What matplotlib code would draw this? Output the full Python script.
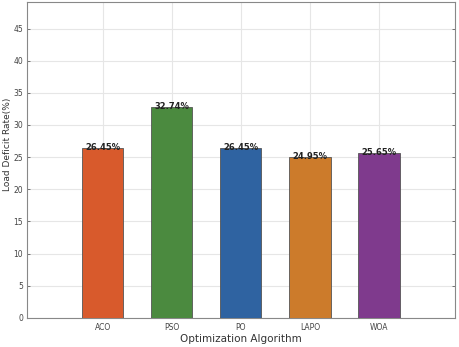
import matplotlib
matplotlib.use("Agg")
import matplotlib.pyplot as plt
import numpy as np

# load deficit rate per optimization algorithm
algorithms = ["ACO", "PSO", "PO", "LAPO", "WOA"]
deficit_rate = [26.45, 32.74, 26.45, 24.95, 25.65]
bar_colors = ["#D85A2C", "#4B8A3F", "#2F63A1", "#CC7B2B", "#7F3A8D"]

fig = plt.figure(figsize=(4.59, 3.47), dpi=100)
ax = fig.add_axes([0.058, 0.084, 0.933, 0.91])

x = np.arange(1, len(algorithms) + 1)
bars = ax.bar(x, deficit_rate, width=0.6, color=bar_colors,
              edgecolor="#555555", linewidth=0.6, zorder=3)

for xi, v in zip(x, deficit_rate):
    ax.text(xi, v - 0.6, f"{v:.2f}%", ha="center", va="bottom",
            fontsize=6, fontweight="bold", color="#222222", zorder=4)

ax.set_xlim(-0.1, 6.1)
ax.set_ylim(0, max(deficit_rate) * 1.5)
ax.set_xticks(x)
ax.set_xticklabels(algorithms)
ax.set_yticks(np.arange(0, 50, 5))

ax.grid(True, color="#e6e6e6", linewidth=0.8, zorder=0)
ax.tick_params(labelsize=5.5, colors="#444444", length=2, width=0.5,
               direction="in", right=True)
ax.tick_params(axis="y", pad=2.5)
for s in ax.spines.values():
    s.set_color("#888888")
    s.set_linewidth(0.8)

ax.set_xlabel("Optimization Algorithm", fontsize=7.5, color="#333333", labelpad=2)
ax.set_ylabel("Load Deficit Rate(%)", fontsize=6.5, color="#333333")
ax.yaxis.set_label_coords(-0.034, 0.55)

fig.savefig("out.png", dpi=100)
